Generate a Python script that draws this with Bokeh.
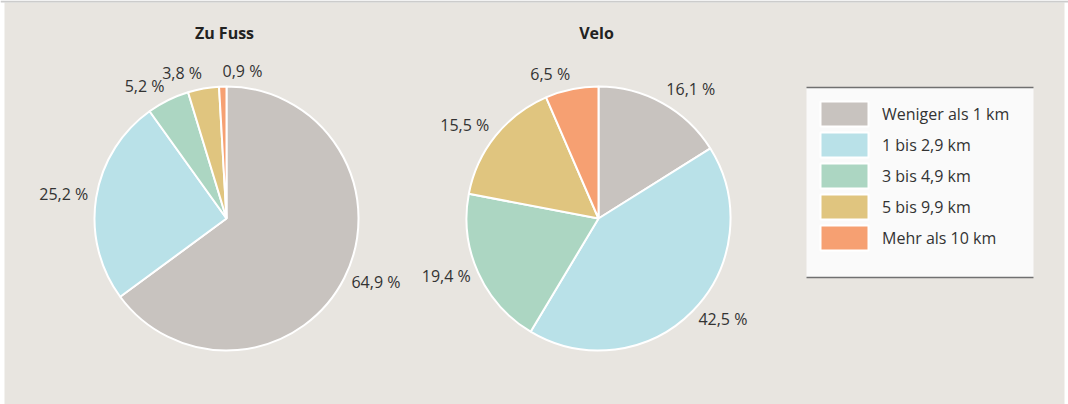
import math
from bokeh.plotting import figure
from bokeh.models import ColumnDataSource, Range1d, Legend, LegendItem
from bokeh.core.properties import value
from bokeh.embed import file_html
from bokeh.resources import INLINE

categories = ["Weniger als 1 km", "1 bis 2,9 km", "3 bis 4,9 km", "5 bis 9,9 km", "Mehr als 10 km"]
colors = ["#c8c3bf", "#b9e1e8", "#acd6c2", "#e0c57f", "#f6a072"]
zu_fuss = [64.9, 25.2, 5.2, 3.8, 0.9]
velo = [16.1, 42.5, 19.4, 15.5, 6.5]
titles = ["Zu Fuss", "Velo"]

FONT = "Open Sans"
BG = "#e8e5e0"
W, H = 1068, 404

p = figure(width=W, height=H, x_range=Range1d(0, W), y_range=Range1d(0, H),
           output_backend="svg", toolbar_location=None, min_border=0,
           x_axis_location=None, y_axis_location=None)
p.grid.visible = False
p.outline_line_color = None
p.background_fill_color = "white"
p.border_fill_color = "white"

# panel background and top rule
p.quad(left=[4], right=[1064], bottom=[0], top=[402], fill_color=BG, line_color=None)
p.segment(x0=[0], x1=[1068], y0=[403], y1=[403], line_color="#cccccc", line_width=2)

centers_x = [226, 598]
center_y = 186
radius = 132

renderers = []
for title, vals, cx in zip(titles, [zu_fuss, velo], centers_x):
    starts, ends, lx, ly, ltxt, lalign = [], [], [], [], [], []
    cum = 0.0
    total = sum(vals)
    for v in vals:
        a0 = math.pi / 2 - 2 * math.pi * cum / total
        cum += v
        a1 = math.pi / 2 - 2 * math.pi * cum / total
        starts.append(a0)
        ends.append(a1)
        mid = (cum - v / 2) / total * 2 * math.pi  # clockwise from top
        s, c = math.sin(mid), math.cos(mid)
        lx.append(cx + (radius + 8) * s)
        ly.append(center_y + (radius + 14) * c + 2)
        ltxt.append(f"{v:.1f}".replace(".", ",") + " %")
        lalign.append("left" if s >= -0.05 else "right")
    src = ColumnDataSource(dict(start=starts, end=ends, color=colors, cat=categories))
    r = p.wedge(x=cx, y=center_y, radius=radius, start_angle="start", end_angle="end",
                direction="clock", fill_color="color", line_color="white", line_width=2,
                source=src)
    renderers.append(r)
    lsrc = ColumnDataSource(dict(x=lx, y=ly, t=ltxt, a=lalign))
    p.text(x="x", y="y", text="t", text_align="a", text_baseline="middle",
           text_font=value(FONT), text_font_size="16px", text_color="#333333", source=lsrc)
    p.text(x=[cx - 2], y=[404 - 32], text=[title], text_align="center", text_baseline="middle",
           text_font=value(FONT), text_font_style="bold", text_font_size="16px",
           text_color="#222222")

# legend box
p.quad(left=[806], right=[1033], top=[404 - 87], bottom=[404 - 277],
       fill_color="#fafafa", line_color=None)
p.segment(x0=[806, 806], x1=[1033, 1033], y0=[404 - 87, 404 - 277], y1=[404 - 87, 404 - 277],
          line_color="#707070", line_width=1.5)

items = [LegendItem(label=cat, renderers=[renderers[1]], index=i) for i, cat in enumerate(categories)]
legend = Legend(items=items, location=(814, 151), glyph_width=60, glyph_height=31,
                spacing=0, padding=0, margin=0, label_standoff=8, label_height=31,
                label_text_font=FONT, label_text_font_size="16px", label_text_color="#333333",
                background_fill_alpha=0, border_line_color=None)
p.add_layout(legend)

open("out.html", "w").write(file_html(p, INLINE))
